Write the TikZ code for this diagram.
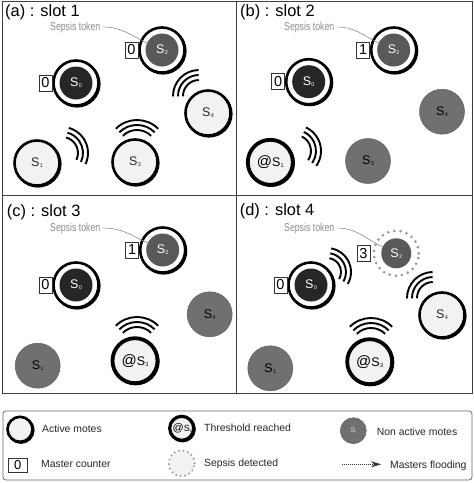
\documentclass[tikz,border=0pt]{standalone}
\usepackage{fontspec}
\setmainfont{Liberation Sans}
\newfontfamily\narrowfont[FakeStretch=0.76]{Liberation Sans}
\usetikzlibrary{calc,arrows.meta}
\definecolor{ringfill}{HTML}{F2F2F2}
\definecolor{nonact}{HTML}{707070}
\definecolor{mdark}{HTML}{262626}
\definecolor{mgray}{HTML}{595959}
\definecolor{tokgray}{HTML}{8C8C8C}
\newcommand\subS[1]{S\kern0.3pt\raisebox{-1.2pt}{\fontsize{5.5}{6}\selectfont #1}}
\newcommand\atS[1]{{\fontsize{15}{16}\selectfont @}\subS{#1}}
\newcommand\wavegrp[5]{\foreach \rr in {0,5,10}{\pgfmathsetmacro\R{#4+\rr}\draw[wave] ({#1+\R*cos(#3-#5)},{-#2+\R*sin(#3-#5)}) arc[start angle={#3-#5}, end angle={#3+#5}, radius=\R pt];}}
\begin{document}
\begin{tikzpicture}[x=1pt,y=1pt,
  mote/.style={circle, inner sep=0pt, minimum size=45pt, font=\fontsize{12.5}{13}\selectfont},
  shade/.style={preaction={draw=black, line width=2.4pt, transform canvas={xshift=0.9pt,yshift=-0.9pt}}},
  active/.style={mote, shade, draw=black, line width=2.6pt, fill=ringfill, text=black!85},
  thresh/.style={mote, shade, draw=black, line width=3.8pt, fill=ringfill, text=black},
  nonactive/.style={mote, fill=nonact, draw=nonact!85!black, line width=0.5pt, text=black},
  master/.style={mote, shade, draw=black, line width=2.6pt, fill=white, text=white,
     path picture={\fill[#1] (path picture bounding box.center) circle (16.5pt);}},
  sepsis/.style={mote, draw=gray!80, line width=3pt, dash pattern=on 0pt off 6.2pt, line cap=round, fill=white, text=white,
     path picture={\fill[mgray] (path picture bounding box.center) circle (15pt);}},
  counter/.style={draw=black!80, line width=0.7pt, fill=white, minimum width=13pt, minimum height=16pt, inner sep=0pt, font=\fontsize{14.5}{15}\selectfont},
  wave/.style={line width=1.9pt, black},
  title/.style={anchor=base west, inner sep=0pt, font=\fontsize{16.4}{18}\selectfont},
  token/.style={anchor=base west, inner sep=0pt, text=tokgray, font=\narrowfont\fontsize{11.5}{13}\selectfont},
  leader/.style={draw=tokgray, line width=0.6pt},
  frame/.style={draw=black!75, line width=0.9pt},
  legtext/.style={anchor=base west, inner sep=0pt, font=\fontsize{10.4}{12}\selectfont, text=black!85},
  flood/.style={draw=black!80, line width=0.6pt, dash pattern=on 1pt off 1pt, -{Stealth[length=10pt,width=6pt]}}
]
\useasboundingbox (0,0) rectangle (474,-483);
% frames
\draw[frame] (2,-1) rectangle (472,-393);
\draw[frame] (236.7,-1) -- (236.7,-393);
\draw[frame] (2,-195) -- (472,-195);

% ---------- panel (a)
\node[title] (ta) at (5,-16) {(a) : slot 1};
\node[token] (tka) at (50,-30) {Sepsis token};
\node[master=mgray] (a2) at (162,-50) {\subS{2}};
\node[master=mdark] (a0) at (76,-83) {\subS{0}};
\node[active] (a4) at (208,-113) {\subS{4}};
\node[active] (a3) at (135,-162) {\subS{3}};
\node[active] (a1) at (37,-163) {\subS{1}};
\node[counter, anchor=east] (ka2) at (a2.west) {0};
\node[counter, anchor=east] (ka0) at (a0.west) {0};
\draw[leader] ([xshift=3pt]tka.east) to[out=0,in=155] ([shift={(155:15)}]a2.center);
\wavegrp{62}{153}{25}{16}{50}
\wavegrp{137}{150}{90}{20}{45}
\wavegrp{199}{96}{136}{16}{45}

% ---------- panel (b)
\node[title] (tb) at (240,-16) {(b) : slot 2};
\node[token] (tkb) at (284,-30) {Sepsis token};
\node[master=mgray] (b2) at (393.7,-50) {\subS{2}};
\node[master=mdark] (b0) at (308.7,-81.7) {\subS{0}};
\node[nonactive] (b4) at (442,-111.7) {\subS{4}};
\node[nonactive] (b3) at (368,-161) {\subS{3}};
\node[thresh] (b1) at (270.3,-162.3) {\atS{1}};
\node[counter, anchor=east] (kb2) at (b2.west) {1};
\node[counter, anchor=east] (kb0) at (b0.west) {0};
\draw[leader] ([xshift=3pt]tkb.east) to[out=0,in=155] ([shift={(155:15)}]b2.center);
\wavegrp{295}{151}{15}{16}{50}

% ---------- panel (c)
\node[title] (tc) at (6.7,-216) {(c) : slot 3};
\node[token] (tkc) at (50,-231) {Sepsis token};
\node[master=mgray] (c2) at (162.7,-250) {\subS{2}};
\node[master=mdark] (c0) at (76,-285) {\subS{0}};
\node[nonactive] (c4) at (209.7,-314.3) {\subS{4}};
\node[nonactive] (c1) at (37.7,-365.7) {\subS{1}};
\node[thresh] (c3) at (135,-360.7) {\atS{3}};
\node[counter, anchor=east] (kc2) at (c2.west) {1};
\node[counter, anchor=east] (kc0) at (c0.west) {0};
\draw[leader] ([xshift=3pt]tkc.east) to[out=0,in=155] ([shift={(155:15)}]c2.center);
\wavegrp{137}{347}{90}{20}{45}

% ---------- panel (d)
\node[title] (td) at (239.7,-215.7) {(d) : slot 4};
\node[token] (tkd) at (284,-231) {Sepsis token};
\node[sepsis] (d2) at (396.3,-253.3) {\subS{2}};
\node[master=mdark] (d0) at (311,-285) {\subS{0}};
\node[active] (d4) at (442,-315) {\subS{4}};
\node[thresh] (d3) at (369.7,-361.7) {\atS{3}};
\node[nonactive] (d1) at (270.3,-368.3) {\subS{1}};
\node[counter, anchor=east] (kd2) at ([xshift=-2pt]d2.west) {3};
\node[counter, anchor=east] (kd0) at (d0.west) {0};
\draw[leader] ([xshift=3pt]tkd.east) to[out=0,in=155] ([shift={(155:15)}]d2.center);
\wavegrp{327}{272}{25}{14}{55}
\wavegrp{433}{298}{136}{16}{45}
\wavegrp{371}{348}{90}{20}{45}

% ---------- legend
\draw[draw=black!60, line width=0.8pt, rounded corners=3pt] (3,-411) rectangle (472,-480);
\node[active, minimum size=25pt] (la) at (20,-429.3) {};
\node[legtext] (lat) at (42,-432.3) {Active motes};
\node[thresh, minimum size=24pt, line width=3.2pt, font=\fontsize{9}{10}\selectfont] (lth) at (181.7,-428.3) {{\fontsize{11}{12}\selectfont @}S\raisebox{-1pt}{\fontsize{4.5}{5}\selectfont i}};
\node[legtext] (ltht) at (204,-431) {Threshold reached};
\node[nonactive, minimum size=26pt, text=white!85!black, font=\fontsize{7}{8}\selectfont] (lna) at (353.3,-430.7) {S\raisebox{-1pt}{\fontsize{3.5}{4}\selectfont i}};
\node[legtext] (lnat) at (376.7,-435.7) {Non active motes};
\node[counter, minimum width=19pt, minimum height=14pt, font=\fontsize{13}{14}\selectfont] (lmc) at (17.8,-465) {0};
\node[legtext] (lmct) at (41,-467.3) {Master counter};
\node[mote, minimum size=26pt, draw=gray!80, line width=2.2pt, dash pattern=on 0pt off 4.6pt, line cap=round, fill=ringfill] (lsd) at (181.7,-463.3) {};
\node[legtext] (lsdt) at (204,-466) {Sepsis detected};
\coordinate (f1) at (341.7,-464.3);
\coordinate (f2) at (381,-464.3);
\draw[flood] (f1) -- (f2);
\node[legtext] (lft) at (390,-468) {Masters flooding};
\end{tikzpicture}
\end{document}
